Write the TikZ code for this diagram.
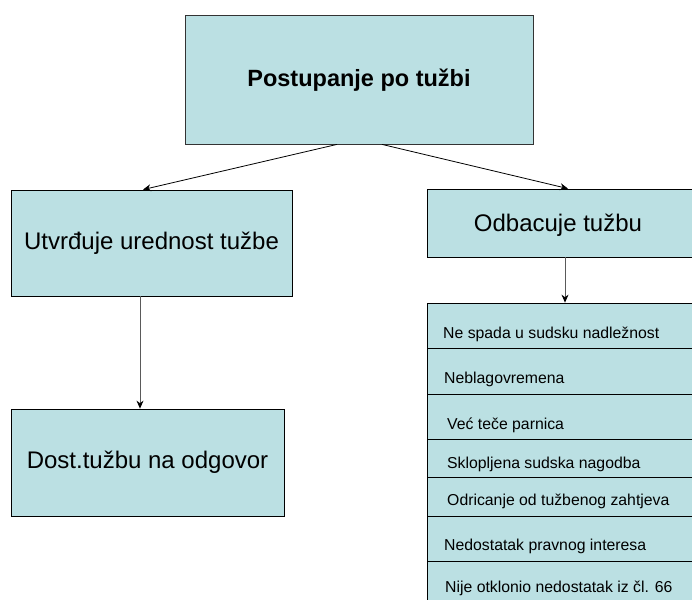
\documentclass[tikz,border=0pt]{standalone}
\usepackage{fontspec}
\setmainfont{Liberation Sans}
\usetikzlibrary{arrows.meta}
\definecolor{boxfill}{RGB}{187,224,227}
\definecolor{arrgray}{RGB}{90,90,90}
\tikzset{
  box/.style={draw=black, fill=boxfill, line width=0.8pt, inner sep=0pt},
  rowbox/.style={draw=black, fill=boxfill, line width=0.8pt, inner sep=0pt, minimum width=276pt},
  big/.style={font=\fontsize{24}{28}\selectfont},
  small/.style={font=\fontsize{15.8}{19}\selectfont, anchor=west, inner sep=0pt},
  arr/.style={-{Stealth[length=8pt,width=7pt,black]}, line width=0.8pt},
}
\begin{document}
\begin{tikzpicture}[x=1pt,y=-1pt]
\useasboundingbox (0,0) rectangle (692,599);
\clip (0,0) rectangle (692,599);
\fill[white] (0,0) rectangle (692,599);

\node[box, draw=black!80, minimum width=348pt, minimum height=129pt] (top) at (359,79.5) {};
\node[font=\fontsize{23.5}{28}\selectfont\bfseries] (toptext) at (359,80) {Postupanje po tužbi};

\node[box, minimum width=281pt, minimum height=106pt, big] (left) at (151.5,243) {Utvrđuje urednost tužbe};
\node[box, minimum width=276pt, minimum height=68pt] (right) at (565,223) {};
\node[big] (righttext) at (558,225) {Odbacuje tužbu};
\node[box, minimum width=273pt, minimum height=107pt, big] (dost) at (147.5,462.5) {Dost.tužbu na odgovor};

% list rows
\node[rowbox, minimum height=45pt] (r1) at (565,325.5) {};
\node[rowbox, minimum height=46pt] (r2) at (565,371) {};
\node[rowbox, minimum height=45pt] (r3) at (565,416.5) {};
\node[rowbox, minimum height=38pt] (r4) at (565,458) {};
\node[rowbox, minimum height=39pt] (r5) at (565,496.5) {};
\node[rowbox, minimum height=45pt] (r6) at (565,538.5) {};
\node[rowbox, minimum height=45pt] (r7) at (565,583.5) {};

\node[small] (t1) at (443,334) {Ne spada u sudsku nadležnost};
\node[small] (t2) at (444,379) {Neblagovremena};
\node[small] (t3) at (447,425) {Već teče parnica};
\node[small] (t4) at (447,464) {Sklopljena sudska nagodba};
\node[small] (t5) at (447,501) {Odricanje od tužbenog zahtjeva};
\node[small] (t6) at (444,546) {Nedostatak pravnog interesa};
\node[small] (t7) at (445,588) {Nije otklonio nedostatak iz čl. 66};

% connectors
\draw[arr] ([xshift=-22pt]top.south) -- ([xshift=-8.5pt]left.north);
\draw[arr] ([xshift=23pt]top.south) -- ([xshift=3pt]right.north);
\draw[arr, draw=arrgray] ([xshift=-11.5pt]left.south) -- ([xshift=-7.5pt]dost.north);
\draw[arr, draw=arrgray] (right.south) -- (r1.north);
\end{tikzpicture}
\end{document}
